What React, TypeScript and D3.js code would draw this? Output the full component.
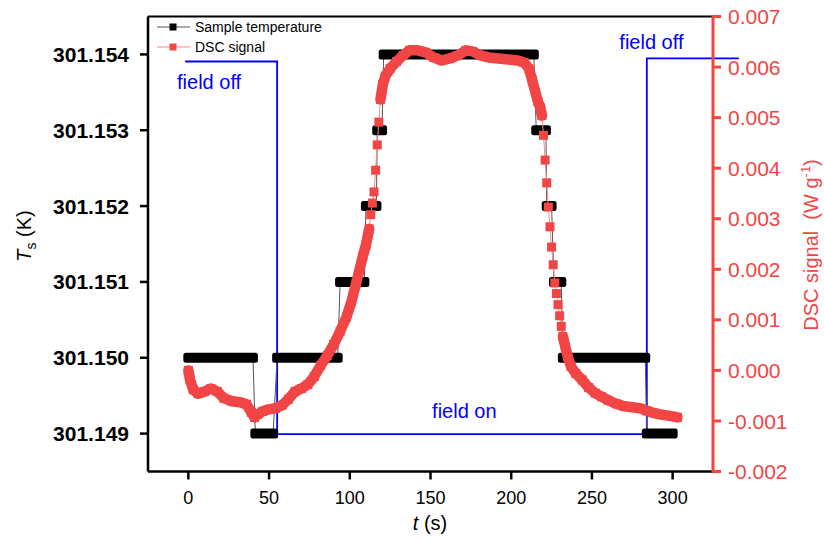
import React from 'react';
import * as d3 from 'd3';

// sample temperature: constant steps (s, s, K)
const tempStart = [0, 41.5, 55, 94, 110, 117, 121, 215.5, 222, 226.5, 232, 284];
const tempEnd = [40, 52.5, 92.5, 109, 116.5, 120, 214, 221.5, 225, 231, 283, 300];
const tempValue = [301.150, 301.149, 301.150, 301.151, 301.152, 301.153, 301.154, 301.153, 301.152, 301.151, 301.150, 301.149];

// DSC signal (s, W/g)
const dscTime = [0, 1, 3, 6, 10, 14, 18, 22, 27, 32, 36, 39, 41, 43, 46, 50, 54, 58, 62, 66, 70, 74, 78, 82, 86, 90, 94, 98, 101, 104, 106, 108, 110, 111, 112,
  113, 114, 115, 116, 117, 118, 119, 120.5, 122, 125, 129, 133, 137, 142, 147, 152, 157, 162, 167, 172, 176, 181, 186, 192, 198, 204, 208, 211, 213, 215, 216.5, 218, 219,
  220, 221, 222, 223, 224, 225, 226, 227, 228, 229, 230, 231, 232, 233.5, 235, 237, 240, 244, 248, 252, 256, 260, 265, 270, 275, 280, 284, 288, 292, 296, 300, 303];
const dscValue = [0.0, -0.00018, -0.00038, -0.00046, -0.00042, -0.00036, -0.00042, -0.00055, -0.00061, -0.00063, -0.00067, -0.00083, -0.00093, -0.00087, -0.00081, -0.00077, -0.00075, -0.00069, -0.00057, -0.00042, -0.00036, -0.00028, -0.00012, 0.0001, 0.00029, 0.00051, 0.00077, 0.00106, 0.00136, 0.00173, 0.00199, 0.00225, 0.00248, 0.00264, 0.0028,
  0.00308, 0.00331, 0.00353, 0.00396, 0.00446, 0.00491, 0.00536, 0.00566, 0.00582, 0.00597, 0.00611, 0.00623, 0.00633, 0.00633, 0.00629, 0.00619, 0.00613, 0.00617, 0.00623, 0.00633, 0.00631, 0.00623, 0.00619, 0.00617, 0.00615, 0.00613, 0.00609, 0.00597, 0.00574, 0.0055, 0.00532, 0.0052, 0.00504,
  0.00465, 0.00416, 0.00371, 0.00323, 0.00284, 0.00244, 0.00209, 0.00173, 0.00152, 0.0013, 0.00108, 0.00087, 0.00067, 0.00047, 0.00027, 0.00008, -0.00006, -0.00019, -0.00034, -0.00045, -0.00052, -0.00059, -0.00066, -0.00071, -0.00073, -0.00075, -0.0008, -0.00084, -0.00087, -0.00089, -0.00091, -0.00093];

// magnetic field state line (drawn on DSC scale)
const fieldTime = [-2, 55, 55, 284, 284, 341];
const fieldValue = [0.00611, 0.00611, -0.00126, -0.00126, 0.00617, 0.00617];

const timeTicks = [0, 50, 100, 150, 200, 250, 300];
const tempTicks = [301.149, 301.150, 301.151, 301.152, 301.153, 301.154];
const dscTicks = [-0.002, -0.001, 0, 0.001, 0.002, 0.003, 0.004, 0.005, 0.006, 0.007];

const FONT = 'Liberation Sans, Arial, sans-serif';
const RED = '#f24545';
const BLUE = '#0000ff';

export default function App() {
  const left = 148, right = 713, top = 16.5, bottom = 471.5;
  const x = d3.scaleLinear().domain([-25, 325]).range([left, right]);
  const yT = d3.scaleLinear().domain([301.1485, 301.1545]).range([bottom, top]);
  const yD = d3.scaleLinear().domain([-0.002, 0.007]).range([bottom, top]);

  // temperature thin connection line
  const tPts: [number, number][] = [];
  tempStart.forEach((s, i) => {
    tPts.push([x(s), yT(tempValue[i])]);
    tPts.push([x(tempEnd[i]), yT(tempValue[i])]);
  });
  const line = d3.line();

  // DSC points in pixels
  const dPts: [number, number][] = dscTime.map((t, i) => [x(t), yD(dscValue[i])]);
  // dense runs -> thick band
  const runs: [number, number][][] = [];
  let cur: [number, number][] = [dPts[0]];
  for (let i = 1; i < dPts.length; i++) {
    const dt = dscTime[i] - dscTime[i - 1];
    const dist = Math.hypot(dPts[i][0] - dPts[i - 1][0], dPts[i][1] - dPts[i - 1][1]);
    if (dt >= 1.5 || dist <= 10) {
      cur.push(dPts[i]);
    } else {
      runs.push(cur);
      cur = [dPts[i]];
    }
  }
  runs.push(cur);

  const fieldPts: [number, number][] = fieldTime.map((t, i) => [x(t), yD(fieldValue[i])]);

  return (
    <svg width={824} height={545} style={{ position: 'absolute', left: 0, top: 0, background: '#fff' }} fontFamily={FONT}>
      {/* field line */}
      <path d={line(fieldPts) || ''} fill="none" stroke={BLUE} strokeWidth={1.8} />
      <text x={x(-7)} y={yD(0.0057)} dy="0.35em" fontSize={20} fill={BLUE}>field off</text>
      <text x={x(151)} y={yD(-0.00081)} dy="0.35em" fontSize={20} fill={BLUE}>field on</text>
      <text x={x(267)} y={yD(0.0065)} dy="0.35em" fontSize={20} fill={BLUE}>field off</text>

      {/* sample temperature */}
      <path d={line(tPts) || ''} fill="none" stroke="#555" strokeWidth={1} />
      {tempStart.map((s, i) => (
        <rect key={'t' + i} x={x(s) - 5} y={yT(tempValue[i]) - 5} width={x(tempEnd[i]) - x(s) + 10} height={10} rx={2.5} fill="#000" />
      ))}

      {/* DSC signal */}
      <path d={line(dPts) || ''} fill="none" stroke="#f78a8a" strokeWidth={1} />
      {runs.filter(r => r.length > 1).map((r, i) => (
        <path key={'r' + i} d={line(r) || ''} fill="none" stroke={RED} strokeWidth={10.5} strokeLinejoin="round" strokeLinecap="round" />
      ))}
      {dPts.map((p, i) => (
        <rect key={'d' + i} x={p[0] - 4.5} y={p[1] - 4.5} width={9} height={9} fill={RED} />
      ))}

      {/* frame */}
      <line x1={left} x2={right} y1={top} y2={top} stroke="#000" strokeWidth={2} />
      <line x1={left} x2={right} y1={bottom} y2={bottom} stroke="#000" strokeWidth={2.5} />
      <line x1={left} x2={left} y1={top} y2={bottom} stroke="#000" strokeWidth={2.5} />
      <line x1={right} x2={right} y1={top - 1} y2={bottom + 1} stroke={RED} strokeWidth={3} />

      {/* bottom axis */}
      {timeTicks.map(t => (
        <g key={'xt' + t}>
          <line x1={x(t)} x2={x(t)} y1={bottom} y2={bottom + 8} stroke="#000" strokeWidth={2.5} />
          <text x={x(t)} y={504} textAnchor="middle" fontSize={18} fill="#000">{t}</text>
        </g>
      ))}
      <text x={430} y={530} textAnchor="middle" fontSize={20} fill="#000">
        <tspan fontStyle="italic">t</tspan> (s)
      </text>

      {/* left axis */}
      {tempTicks.map(v => (
        <g key={'yt' + v}>
          <line x1={left - 8} x2={left} y1={yT(v)} y2={yT(v)} stroke="#000" strokeWidth={2.5} />
          <text x={129} y={yT(v)} dy="0.36em" textAnchor="end" fontSize={21} fontWeight="bold" fill="#000">{v.toFixed(3)}</text>
        </g>
      ))}
      <text transform="translate(31,236) rotate(-90)" textAnchor="middle" fontSize={20} fill="#000">
        <tspan fontStyle="italic">T</tspan><tspan fontSize={14} dy={5}>s</tspan><tspan dy={-5}> (K)</tspan>
      </text>

      {/* right axis */}
      {dscTicks.map(v => (
        <g key={'yd' + v}>
          <line x1={right} x2={right + 8} y1={yD(v)} y2={yD(v)} stroke={RED} strokeWidth={3} />
          <text x={728} y={yD(v)} dy="0.36em" textAnchor="start" fontSize={21} fill={RED}>{v.toFixed(3)}</text>
        </g>
      ))}
      <text transform="translate(818,245) rotate(-90)" textAnchor="middle" fontSize={20} fill={RED} style={{ whiteSpace: 'pre' }}>
        DSC signal  (W g<tspan fontSize={13} dy={-8}>-1</tspan><tspan dy={8}>)</tspan>
      </text>

      {/* legend */}
      <line x1={157} x2={190} y1={27} y2={27} stroke="#555" strokeWidth={1} />
      <rect x={169.5} y={23.5} width={7} height={7} fill="#000" />
      <text x={195} y={27} dy="0.35em" fontSize={14} fill="#000">Sample temperature</text>
      <line x1={157} x2={190} y1={47} y2={47} stroke="#f78a8a" strokeWidth={1} />
      <rect x={169.5} y={43.5} width={7} height={7} fill={RED} />
      <text x={195} y={47} dy="0.35em" fontSize={14} fill="#000">DSC signal</text>
    </svg>
  );
}
